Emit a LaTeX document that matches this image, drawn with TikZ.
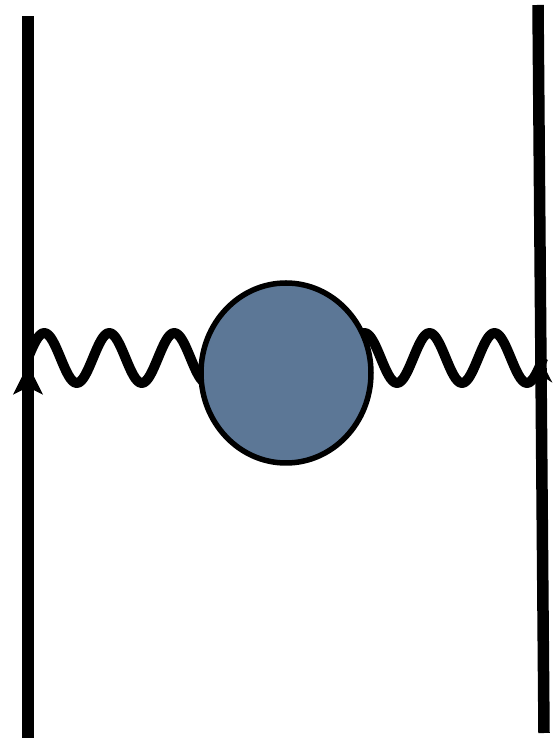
\documentclass[tikz,border=0pt]{standalone}
\usepackage{amsmath}
\usepackage{tikz}
\usetikzlibrary{arrows.meta,decorations.markings,shapes.geometric}
\definecolor{blobblue}{RGB}{92,119,150}

\begin{document}
\begin{tikzpicture}[
        fermion/.style 2 args={line width=0.23cm, postaction={decorate},
            decoration={markings, mark=at position #1 with
                {\arrow{Stealth[length=#2, width=#2, inset=0.15cm, line width=0pt]}}}},
        photon/.style={line width=0.2cm, line join=round},
        blob/.style={ellipse, draw, fill=blobblue, line width=0.11cm,
            minimum width=3.4cm, minimum height=3.6cm, inner sep=0pt}
    ]
        \useasboundingbox (0, 0) rectangle (11.08, 14.78);
        \coordinate (lb) at (0.56, 0.02);
        \coordinate (lt) at (0.56, 14.46);
        \coordinate (rb) at (10.88, 0.12);
        \coordinate (rt) at (10.76, 14.68);
        \draw[fermion={0.517}{0.6cm}] (lb) -- (lt);
        \draw[fermion={0.512}{0.45cm}] (rb) -- (rt);
        % wiggly lines, three periods each
        \coordinate (lw) at (0.56, 7.62);
        \coordinate (rw) at (6.965, 7.62);
        \draw[photon] (lw) \foreach \k in {1, 2, 3} {
            sin ++(0.325, 0.5) cos ++(0.325, -0.5) sin ++(0.325, -0.5) cos ++(0.325, 0.5)};
        \draw[photon] (rw) \foreach \k in {1, 2, 3} {
            sin ++(0.325, 0.5) cos ++(0.325, -0.5) sin ++(0.325, -0.5) cos ++(0.325, 0.5)};
        \node[blob] (self) at (5.72, 7.32) {};
    \end{tikzpicture}
\end{document}
